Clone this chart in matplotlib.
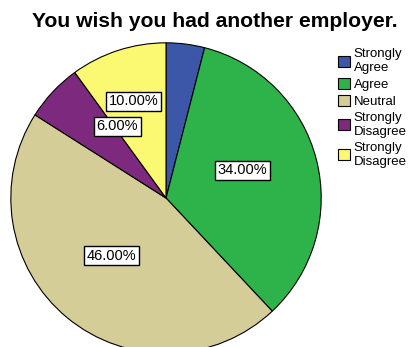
import matplotlib.pyplot as plt
from matplotlib.patches import Patch

plt.rcParams['font.family'] = ['Liberation Sans', 'DejaVu Sans']

# data
categories = ["Strongly\nAgree", "Agree", "Neutral", "Strongly\nDisagree", "Strongly\nDisagree"]
percent = [4, 34, 46, 6, 10]
colors = ["#3c56a8", "#2eb34b", "#d4cd98", "#7d2a7e", "#fbf872"]

fig = plt.figure(figsize=(4.14, 3.47), dpi=100)
# pie is a bit cut at the bottom in the original
ax = fig.add_axes([0.0242, -0.0202, 0.7536, 0.899])

wedges, texts, autotexts = ax.pie(
    percent, colors=colors, startangle=90, counterclock=False,
    autopct=lambda p: "" if p < 5 else "%.2f%%" % p,
    pctdistance=0.52,
    wedgeprops=dict(edgecolor="black", linewidth=0.8),
    textprops=dict(fontsize=10.5),
)
for t in autotexts:
    if t.get_text():
        t.set_bbox(dict(facecolor="white", edgecolor="black", linewidth=1.0, pad=1.8))

# small nudges so the boxes sit like in the original
shifts = {1: (-0.01, 0.05), 2: (-0.02, 0.03), 3: (0.066, 0.108), 4: (-0.05, 0.13)}
for i, (dx, dy) in shifts.items():
    x, y = autotexts[i].get_position()
    autotexts[i].set_position((x + dx, y + dy))

ax.set_xlim(-1.005, 1.005)
ax.set_ylim(-1.005, 1.005)
ax.set_aspect("equal")

fig.text(0.52, 0.937, "You wish you had another employer.", ha="center",
         va="center", fontsize=15.2, fontweight="bold")

handles = [Patch(facecolor=c, edgecolor="black", linewidth=0.8) for c in colors]
fig.legend(handles, categories, loc="upper left", bbox_to_anchor=(0.80, 0.88),
           frameon=False, fontsize=9.5, handlelength=0.9, handleheight=0.9,
           handletextpad=0.3, labelspacing=0.3, borderpad=0)

plt.savefig("out.png", dpi=100)
